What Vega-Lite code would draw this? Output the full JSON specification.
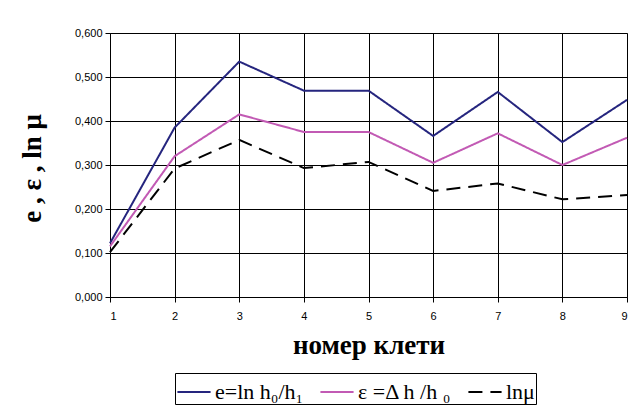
{
  "$schema": "https://vega.github.io/schema/vega-lite/v6.json",
  "autosize": "none",
  "width": 517,
  "height": 264,
  "padding": {"left": 110, "top": 33, "right": 10, "bottom": 111},
  "background": "white",
  "data": {"values": [
    {"n": 1, "s": "e=ln h₀/h₁", "v": 0.122},
    {"n": 2, "s": "e=ln h₀/h₁", "v": 0.385},
    {"n": 3, "s": "e=ln h₀/h₁", "v": 0.535},
    {"n": 4, "s": "e=ln h₀/h₁", "v": 0.469},
    {"n": 5, "s": "e=ln h₀/h₁", "v": 0.469},
    {"n": 6, "s": "e=ln h₀/h₁", "v": 0.366},
    {"n": 7, "s": "e=ln h₀/h₁", "v": 0.466},
    {"n": 8, "s": "e=ln h₀/h₁", "v": 0.352},
    {"n": 9, "s": "e=ln h₀/h₁", "v": 0.448},
    {"n": 1, "s": "ε =Δ h /h ₀", "v": 0.115},
    {"n": 2, "s": "ε =Δ h /h ₀", "v": 0.32},
    {"n": 3, "s": "ε =Δ h /h ₀", "v": 0.415},
    {"n": 4, "s": "ε =Δ h /h ₀", "v": 0.375},
    {"n": 5, "s": "ε =Δ h /h ₀", "v": 0.375},
    {"n": 6, "s": "ε =Δ h /h ₀", "v": 0.305},
    {"n": 7, "s": "ε =Δ h /h ₀", "v": 0.372},
    {"n": 8, "s": "ε =Δ h /h ₀", "v": 0.3},
    {"n": 9, "s": "ε =Δ h /h ₀", "v": 0.362},
    {"n": 1, "s": "lnμ", "v": 0.102},
    {"n": 2, "s": "lnμ", "v": 0.292},
    {"n": 3, "s": "lnμ", "v": 0.357},
    {"n": 4, "s": "lnμ", "v": 0.293},
    {"n": 5, "s": "lnμ", "v": 0.307},
    {"n": 6, "s": "lnμ", "v": 0.241},
    {"n": 7, "s": "lnμ", "v": 0.258},
    {"n": 8, "s": "lnμ", "v": 0.222},
    {"n": 9, "s": "lnμ", "v": 0.232}
  ]},
  "mark": {"type": "line", "strokeWidth": 2},
  "encoding": {
    "x": {
      "field": "n", "type": "quantitative",
      "scale": {"domain": [1, 9], "nice": false, "zero": false},
      "axis": {
        "values": [1, 2, 3, 4, 5, 6, 7, 8, 9],
        "title": "номер клети",
        "titleFont": "Liberation Serif", "titleFontSize": 27, "titleFontWeight": "bold",
        "titleColor": "black", "titlePadding": 11,
        "labelFont": "Liberation Sans", "labelFontSize": 11, "labelColor": "black",
        "labelPadding": 8,
        "grid": true, "gridColor": "black", "gridOpacity": 1,
        "domainColor": "black", "tickColor": "black", "tickSize": 5
      }
    },
    "y": {
      "field": "v", "type": "quantitative",
      "scale": {"domain": [0, 0.6], "nice": false},
      "axis": {
        "values": [0, 0.1, 0.2, 0.3, 0.4, 0.5, 0.6],
        "labelExpr": "replace(format(datum.value, '.3f'), '.', ',')",
        "title": "e ,  ε ,  ln μ",
        "titleFont": "Liberation Serif", "titleFontSize": 27, "titleFontWeight": "bold",
        "titleColor": "black", "titleX": -64, "titleY": 135,
        "labelFont": "Liberation Sans", "labelFontSize": 11, "labelColor": "black",
        "labelPadding": 3,
        "grid": true, "gridColor": "black", "gridOpacity": 1,
        "domainColor": "black", "tickColor": "black", "tickSize": 5
      }
    },
    "color": {
      "field": "s", "type": "nominal",
      "scale": {"domain": ["e=ln h₀/h₁", "ε =Δ h /h ₀", "lnμ"], "range": ["#25257e", "#c25ab4", "#000000"]},
      "legend": {
        "orient": "none", "legendX": 65, "legendY": 340,
        "direction": "horizontal", "title": null,
        "strokeColor": "black", "padding": 1,
        "symbolType": "stroke", "symbolSize": 1100, "symbolStrokeWidth": 2,
        "labelFont": "Liberation Serif", "labelFontSize": 22, "labelColor": "black",
        "columnPadding": 12, "labelOffset": 3
      }
    },
    "strokeDash": {
      "field": "s", "type": "nominal",
      "scale": {"domain": ["e=ln h₀/h₁", "ε =Δ h /h ₀", "lnμ"], "range": [[1, 0], [1, 0], [14, 8]]},
      "legend": null
    }
  },
  "config": {
    "view": {"stroke": "#999999", "strokeWidth": 1}
  }
}
